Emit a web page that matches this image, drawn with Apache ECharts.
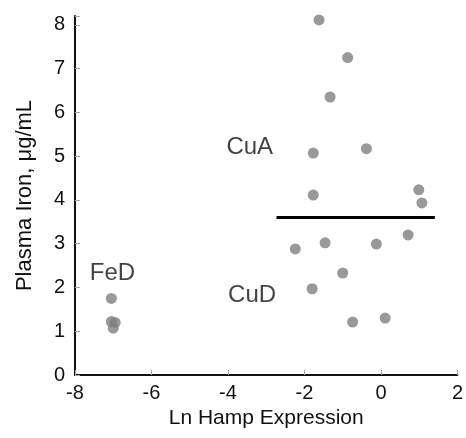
<!DOCTYPE html>
<html>
<head>
<meta charset="utf-8">
<script src="https://cdn.jsdelivr.net/npm/echarts@6/dist/echarts.min.js"></script>
<style>
  html, body { margin: 0; padding: 0; background: #fff; }
  #main { width: 466px; height: 438px; }
</style>
</head>
<body>
<div id="main"></div>
<script>
// FeD group (iron deficient)
const fedPoints = [
  [-7.05, 1.75],
  [-7.05, 1.22],
  [-6.95, 1.20],
  [-7.00, 1.07]
];

// CuA / CuD groups
const cuPoints = [
  [-1.62, 8.11],
  [-0.87, 7.25],
  [-1.33, 6.35],
  [-1.77, 5.07],
  [-0.38, 5.17],
  [-1.77, 4.11],
  [0.99, 4.23],
  [1.07, 3.93],
  [-2.24, 2.88],
  [-1.46, 3.02],
  [-0.12, 2.99],
  [0.71, 3.20],
  [-1.00, 2.33],
  [-1.80, 1.97],
  [-0.74, 1.21],
  [0.11, 1.30]
];

// threshold line
const meanLine = [[-2.73, 3.6], [1.41, 3.6]];

// group annotations [x, y, text]
const groupLabels = [
  [-7.02, 2.31, 'FeD'],
  [-3.43, 5.21, 'CuA'],
  [-3.37, 1.81, 'CuD']
];

const chartDom = document.getElementById('main');
const myChart = echarts.init(chartDom);

const font = 'Liberation Sans, Arial, sans-serif';

const option = {
  animation: false,
  textStyle: { fontFamily: font },
  grid: { left: 75, right: 4, top: 16, bottom: 63 },
  xAxis: {
    type: 'value',
    min: -8,
    max: 2,
    interval: 2,
    name: 'Ln Hamp Expression',
    nameLocation: 'middle',
    nameGap: 29,
    nameTextStyle: { fontSize: 21, color: '#111', fontFamily: font },
    axisLine: { onZero: false, lineStyle: { color: '#111', width: 2 } },
    axisTick: { inside: true, length: 5, lineStyle: { color: '#aaa' } },
    axisLabel: { fontSize: 20, color: '#111', margin: 8, fontFamily: font },
    splitLine: { show: false }
  },
  yAxis: {
    type: 'value',
    min: 0,
    max: 8.2,
    interval: 1,
    name: 'Plasma Iron, μg/mL',
    nameLocation: 'middle',
    nameGap: 39,
    nameTextStyle: { fontSize: 22, color: '#111', fontFamily: font },
    axisLine: { show: true, onZero: false, lineStyle: { color: '#111', width: 2 } },
    axisTick: { show: true, inside: true, length: 5, lineStyle: { color: '#aaa' } },
    axisLabel: {
      fontSize: 20,
      color: '#111',
      margin: 10,
      fontFamily: font,
      formatter: v => (Number.isInteger(v) ? v : '')
    },
    splitLine: { show: false }
  },
  series: [
    {
      type: 'scatter',
      data: fedPoints,
      symbolSize: 11,
      clip: false,
      itemStyle: { color: '#7f7f7f' }
    },
    {
      type: 'scatter',
      data: cuPoints,
      symbolSize: 11,
      clip: false,
      itemStyle: { color: '#7f7f7f' }
    },
    {
      type: 'line',
      data: meanLine,
      symbol: 'none',
      lineStyle: { color: '#000', width: 3 }
    },
    {
      type: 'scatter',
      data: groupLabels.map(d => [d[0], d[1], d[2]]),
      symbolSize: 0,
      label: {
        show: true,
        position: 'inside',
        formatter: p => p.value[2],
        fontSize: 24,
        color: '#111',
        fontFamily: font
      }
    }
  ]
};

option && myChart.setOption(option);
</script>
</body>
</html>
